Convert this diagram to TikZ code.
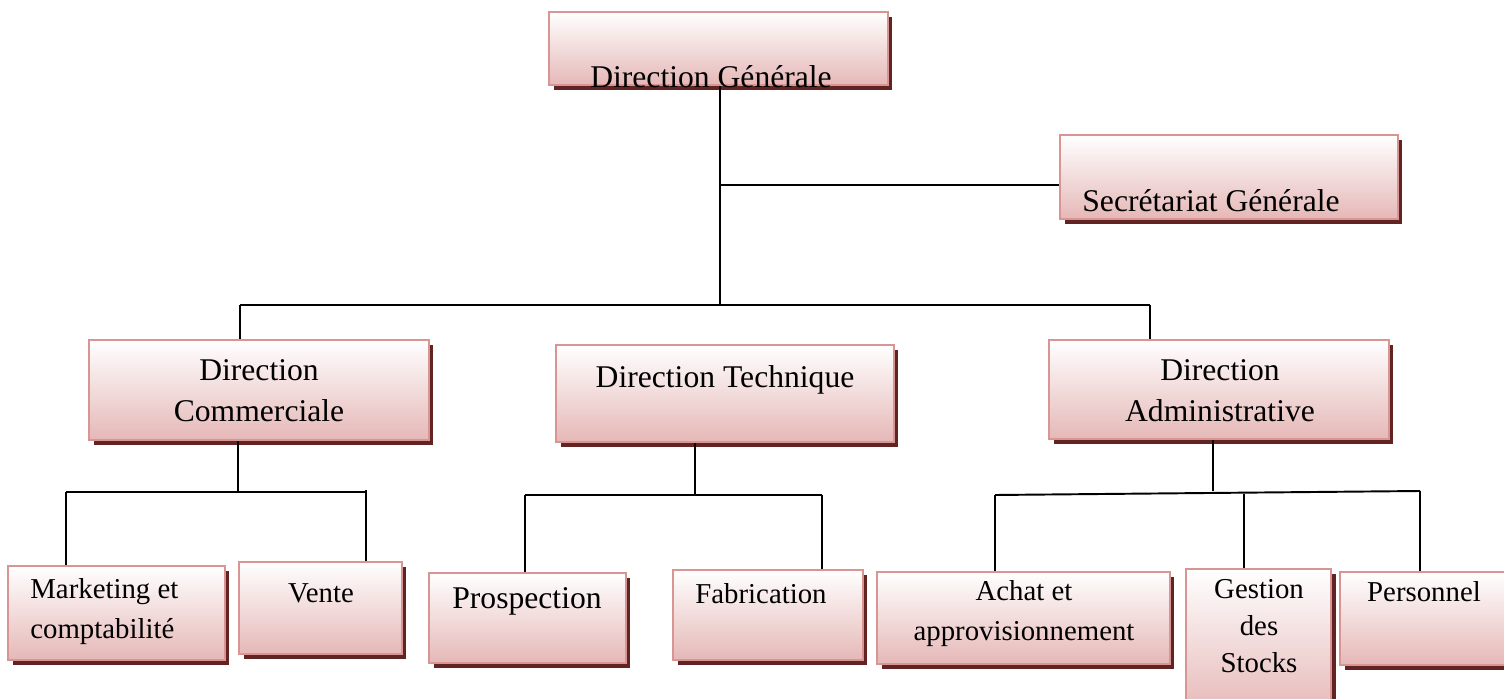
\documentclass[tikz,border=0pt]{standalone}
\usepackage{fontspec}
\setmainfont{Liberation Serif}
\usetikzlibrary{shadows}
\definecolor{boxline}{HTML}{D99594}
\definecolor{boxfill}{HTML}{E5B8B7}
\definecolor{boxshadow}{HTML}{622423}

\begin{document}
\begin{tikzpicture}[
    x=0.02cm, y=-0.02cm,
    unit/.style={draw=boxline, line width=1.2pt, top color=white, bottom color=boxfill, inner sep=0pt,
        drop shadow={shadow xshift=0.09cm, shadow yshift=-0.1cm, fill=boxshadow, opacity=1}},
    big/.style={font=\fontsize{18}{22.8}\selectfont, align=center, anchor=base, inner sep=0pt},
    small/.style={font=\fontsize{16.4}{22.5}\selectfont, align=center, anchor=base, inner sep=0pt},
    link/.style={line width=1.1pt}
]
    \useasboundingbox (0,0) rectangle (1504,699);

    % boxes
    \node[unit, minimum width=6.78cm, minimum height=1.46cm] (dg) at (718.5,48.5) {};
    \node[unit, minimum width=6.76cm, minimum height=1.68cm] (sg) at (1229,177) {};
    \node[unit, minimum width=6.8cm, minimum height=2cm] (dc) at (259,390) {};
    \node[unit, minimum width=6.76cm, minimum height=1.94cm] (dt) at (725,393.5) {};
    \node[unit, minimum width=6.8cm, minimum height=1.98cm] (da) at (1219,389.5) {};
    \node[unit, minimum width=4.34cm, minimum height=1.88cm] (mk) at (116.5,613) {};
    \node[unit, minimum width=3.26cm, minimum height=1.84cm] (ve) at (320.5,608) {};
    \node[unit, minimum width=3.94cm, minimum height=1.8cm] (pr) at (527.5,618) {};
    \node[unit, minimum width=3.8cm, minimum height=1.8cm] (fa) at (768,615) {};
    \node[unit, minimum width=5.86cm, minimum height=1.84cm] (ac) at (1023.5,618) {};
    \node[unit, minimum width=2.9cm, minimum height=2.92cm] (gs) at (1258.5,642) {};
    \node[unit, minimum width=3.5cm, minimum height=1.86cm] (pe) at (1427.5,618.5) {};

    % texts (base = last line)
    \node[big] (dgtext) at (711,88) {Direction Générale};
    \node[big] (sgtext) at (1211,212) {Secrétariat Générale};
    \node[big] (dctext) at (259,421) {Direction\\Commerciale};
    \node[big] (dttext) at (725,387) {Direction Technique};
    \node[big] (datext) at (1220,421) {Direction\\Administrative};
    \node[small, align=left, anchor=base west] (mktext) at (30,638) {Marketing et\\comptabilité};
    \node[small] (vetext) at (321,602) {Vente};
    \node[big] (prtext) at (527,608) {Prospection};
    \node[small] (fatext) at (761,603) {Fabrication};
    \node[small] (actext) at (1024,640) {Achat et\\approvisionnement};
    \node[small, font=\fontsize{16.4}{21}\selectfont] (gstext) at (1259,672) {Gestion\\des\\Stocks};
    \node[small] (petext) at (1424,601) {Personnel};

    % junctions
    \coordinate (top) at (720,305);
    \coordinate (sgj) at (720,185);
    \coordinate (dcup) at (240,305);
    \coordinate (daup) at (1150,305);
    \coordinate (dcj) at (238,492);
    \coordinate (mkup) at (66,492);
    \coordinate (veup) at (366,490);
    \coordinate (dtj) at (695,495);
    \coordinate (prup) at (525,495);
    \coordinate (faup) at (822,495);
    \coordinate (daj) at (1213,491);
    \coordinate (acup) at (995,495);
    \coordinate (gsup) at (1244,494);
    \coordinate (peup) at (1420,491);

    % connectors
    \draw[link] (dg.south -| top) -- (top);
    \draw[link] (sgj) -- (sgj -| sg.west);
    \draw[link] (dcup) -- (daup);
    \draw[link] (dcup) -- (dcup |- dc.north);
    \draw[link] (daup) -- (daup |- da.north);

    \draw[link] (dc.south -| dcj) -- (dcj);
    \draw[link] (mkup) -- (mkup -| veup);
    \draw[link] (mkup) -- (mkup |- mk.north);
    \draw[link] (veup) -- (veup |- ve.north);

    \draw[link] (dt.south -| dtj) -- (dtj);
    \draw[link] (prup) -- (faup);
    \draw[link] (prup) -- (prup |- pr.north);
    \draw[link] (faup) -- (faup |- fa.north);

    \draw[link] (da.south -| daj) -- (daj);
    \draw[link] (acup) -- (peup);
    \draw[link] (acup) -- (acup |- ac.north);
    \draw[link] (gsup) -- (gsup |- gs.north);
    \draw[link] (peup) -- (peup |- pe.north);
\end{tikzpicture}
\end{document}
